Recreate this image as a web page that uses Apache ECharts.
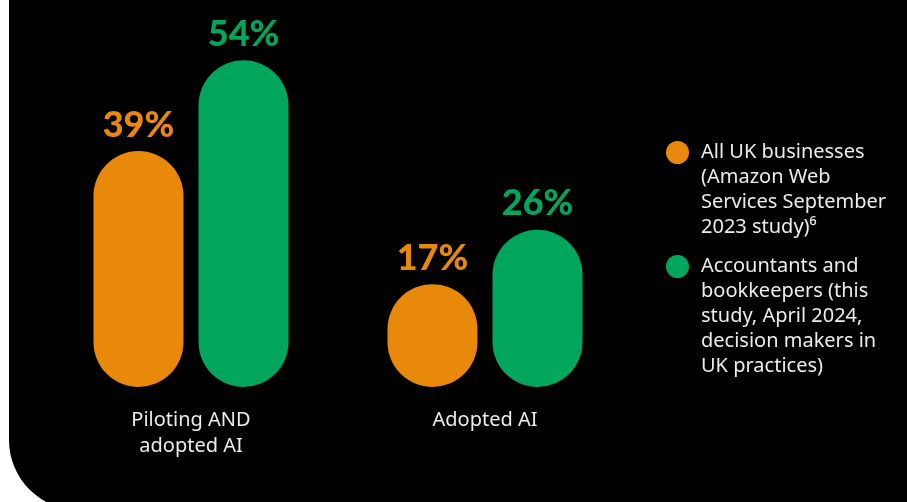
<!DOCTYPE html>
<html>
<head>
<meta charset="utf-8">
<script src="https://cdn.jsdelivr.net/npm/echarts@6/dist/echarts.min.js"></script>
<style>
html,body{margin:0;padding:0;background:#ffffff;}
#chart{width:907px;height:502px;}
</style>
</head>
<body>
<div id="chart"></div>
<script>
var categories = ['Piloting AND\nadopted AI', 'Adopted AI'];
var seriesNames = ['All UK businesses (Amazon Web Services September 2023 study)6', 'Accountants and bookkeepers (this study, April 2024, decision makers in UK practices)'];
var legendLines = [
  ['All UK businesses', '(Amazon Web', 'Services September', '2023 study)\u2076'],
  ['Accountants and', 'bookkeepers (this', 'study, April 2024,', 'decision makers in', 'UK practices)']
];
var allUkValues = [39, 17];
var accountantValues = [54, 26];
var colors = ['#E9890B', '#00A65C'];

var chart = echarts.init(document.getElementById('chart'), null, {renderer: 'canvas'});

var textColor = '#ececec';
var bodyFont = 'Noto Sans';

// pad with leading blank lines so the first text line sits level with the dot
function legendText(lines) {
  var k = lines.length - 1;
  var pad = [];
  for (var j = 0; j < k; j++) pad.push(' ');
  return pad.concat(lines).join('\n');
}

function legendFor(i, top) {
  return {
    show: true,
    orient: 'vertical',
    left: 666,
    top: top,
    padding: 0,
    icon: 'circle',
    itemWidth: 37,
    itemHeight: 23,
    selectedMode: false,
    data: [seriesNames[i]],
    formatter: function () { return legendText(legendLines[i]); },
    textStyle: {
      color: textColor,
      fontFamily: bodyFont,
      fontSize: 20,
      lineHeight: 25
    }
  };
}

function barSeries(i, values) {
  return {
    name: seriesNames[i],
    type: 'bar',
    data: values,
    barWidth: 90,
    barGap: '16.7%',
    itemStyle: { color: colors[i], borderRadius: 45 },
    label: {
      show: true,
      position: 'top',
      distance: 8,
      formatter: '{c}%',
      color: colors[i],
      fontFamily: 'Lato',
      fontWeight: 900,
      fontSize: 36
    }
  };
}

chart.setOption({
  backgroundColor: '#ffffff',
  animation: false,
  graphic: [{
    type: 'rect',
    z: -10,
    silent: true,
    shape: { x: 9, y: -20, width: 920, height: 530, r: [0, 0, 0, 70] },
    style: { fill: '#000000' }
  }],
  legend: [legendFor(0, 65), legendFor(1, 154)],
  grid: { left: 44, right: 275, top: 24, bottom: 115 },
  xAxis: {
    type: 'category',
    data: categories,
    axisLine: { show: false },
    axisTick: { show: false },
    axisLabel: {
      color: textColor,
      fontFamily: bodyFont,
      fontSize: 20,
      lineHeight: 26,
      margin: 20
    }
  },
  yAxis: {
    type: 'value',
    min: 0,
    max: 60,
    show: false,
    splitLine: { show: false }
  },
  series: [barSeries(0, allUkValues), barSeries(1, accountantValues)]
});
</script>
</body>
</html>
